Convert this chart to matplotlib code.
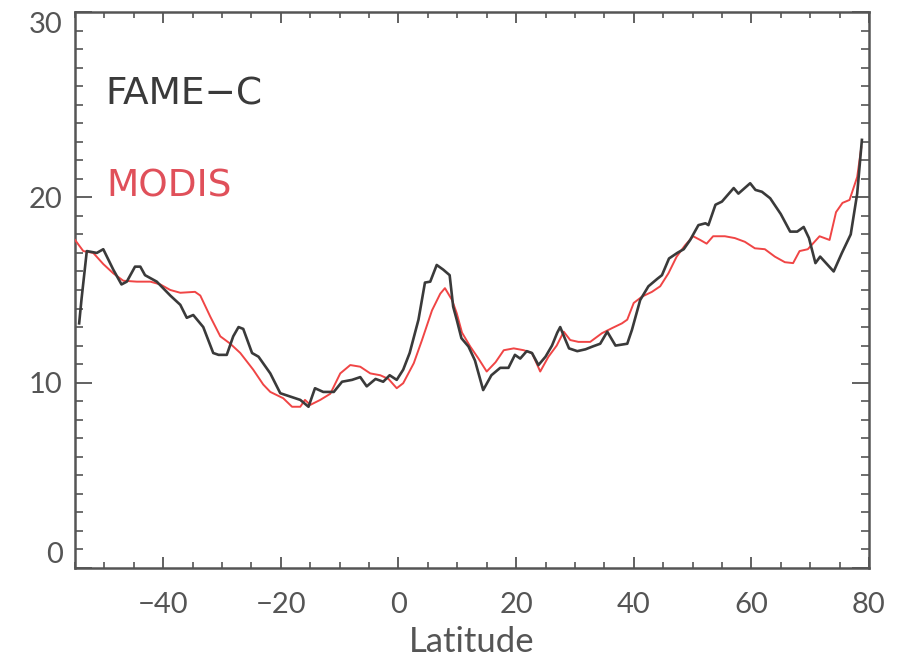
import matplotlib
matplotlib.use("Agg")
import matplotlib.pyplot as plt
from matplotlib.ticker import MultipleLocator

# FAME-C (black) traced
fame_lat = [-54.3, -53.9, -53.0, -51.3, -50.2, -48.5, -47.1, -46.2, -44.8, -43.9, -43.1,
            -41.1, -38.8, -37.1, -36.0, -34.9, -33.2, -31.5, -30.6, -29.2, -28.1, -27.2,
            -26.4, -24.9, -23.8, -21.8, -20.1, -18.4, -16.7, -15.3, -14.2, -12.8, -11.0,
            -9.6, -7.9, -6.5, -5.4, -3.9, -2.6, -1.5, -0.3, 0.8, 1.9, 3.4, 4.5, 5.4, 6.5,
            7.6, 8.7, 9.3, 9.9, 10.7, 11.9, 13.0, 14.4, 15.8, 17.3, 18.7, 19.8, 20.7, 21.8,
            22.7, 23.8, 25.0, 26.1, 27.0, 27.5, 28.4, 29.0, 30.4, 31.8, 33.0, 34.3, 35.5,
            36.9, 38.9, 39.7, 41.1, 42.5, 44.0, 44.8, 46.0, 47.4, 48.5, 49.6, 51.0, 52.2,
            52.7, 53.9, 55.0, 57.0, 57.8, 59.8, 60.7, 61.8, 63.2, 65.0, 66.6, 67.8, 68.9,
            69.8, 70.9, 71.7, 74.0, 75.4, 76.9, 78.0, 78.8]
fame_val = [13.2, 14.5, 17.1, 17.0, 17.2, 16.1, 15.3, 15.45, 16.26, 16.26, 15.8,
            15.45, 14.7, 14.2, 13.5, 13.65, 13.0, 11.6, 11.5, 11.5, 12.5, 13.0,
            12.9, 11.6, 11.4, 10.5, 9.43, 9.25, 9.07, 8.7, 9.7, 9.5, 9.5,
            10.05, 10.15, 10.3, 9.8, 10.2, 10.05, 10.4, 10.15, 10.7, 11.6, 13.4, 15.4, 15.45, 16.35,
            16.1, 15.8, 14.1, 13.4, 12.4, 11.95, 11.2, 9.6, 10.4, 10.8, 10.8, 11.5, 11.3, 11.7,
            11.6, 10.95, 11.4, 12.0, 12.7, 13.0, 12.3, 11.85, 11.7, 11.8, 11.95, 12.1, 12.75,
            12.0, 12.1, 12.85, 14.46, 15.2, 15.6, 15.8, 16.7, 17.0, 17.2, 17.7, 18.5, 18.6,
            18.5, 19.6, 19.77, 20.5, 20.2, 20.76, 20.4, 20.3, 19.95, 19.1, 18.15, 18.15, 18.4,
            17.8, 16.45, 16.8, 16.0, 17.0, 18.0, 20.2, 23.1]

# MODIS (red) traced
modis_lat = [-55.0, -53.6, -51.9, -50.2, -48.5, -46.8, -44.5, -42.2, -40.5, -38.8, -37.1,
             -34.6, -33.7, -32.0, -30.3, -28.6, -26.9, -24.7, -23.0, -21.8, -19.6, -18.1,
             -16.7, -15.9, -15.0, -13.3, -11.6, -9.9, -8.2, -6.5, -4.8, -3.1, -1.7, -0.3,
             0.8, 2.6, 4.0, 5.7, 7.1, 7.9, 9.1, 9.9, 10.8, 12.2, 13.6, 15.0, 16.5, 17.9,
             19.6, 21.3, 22.7, 24.1, 25.5, 26.9, 28.1, 29.2, 30.6, 32.6, 34.6, 36.3, 38.0,
             38.9, 40.0, 41.4, 43.1, 44.5, 45.9, 47.3, 48.7, 50.1, 51.3, 52.4, 53.5, 55.5,
             57.2, 58.9, 60.6, 62.3, 64.0, 65.7, 67.1, 68.2, 69.6, 71.6, 73.3, 74.4, 75.5,
             76.7, 78.0, 78.7]
modis_val = [17.7, 17.1, 17.0, 16.4, 15.9, 15.5, 15.45, 15.45, 15.3, 15.0, 14.85,
             14.9, 14.7, 13.56, 12.5, 12.1, 11.6, 10.7, 9.9, 9.5, 9.16, 8.7,
             8.7, 9.07, 8.8, 9.07, 9.4, 10.5, 10.95, 10.86, 10.5, 10.4, 10.2, 9.7,
             9.97, 11.05, 12.3, 13.9, 14.8, 15.1, 14.46, 13.75, 12.7, 11.95, 11.3, 10.6, 11.1, 11.75,
             11.85, 11.75, 11.6, 10.6, 11.4, 12.0, 12.75, 12.3, 12.2, 12.2, 12.67, 12.94, 13.2,
             13.4, 14.3, 14.64, 14.9, 15.2, 15.9, 16.8, 17.4, 17.9, 17.7, 17.5, 17.9, 17.9,
             17.8, 17.6, 17.25, 17.2, 16.8, 16.5, 16.45, 17.1, 17.2, 17.9, 17.7, 19.2, 19.7,
             19.86, 21.1, 22.7]

x_ticks = [-40, -20, 0, 20, 40, 60, 80]
y_ticks = [0, 10, 20, 30]

plt.rcParams['font.family'] = ['Lato', 'DejaVu Sans']
plt.rcParams['font.weight'] = 'normal'

axis_col = '#555555'
fig = plt.figure(figsize=(9.03, 6.59), dpi=100)
ax = fig.add_axes([0.0831, 0.1381, 0.8792, 0.8437])

ax.plot(modis_lat, modis_val, color='#f04545', lw=1.4, zorder=3)
ax.plot(fame_lat, fame_val, color='#3a3a3a', lw=1.9, zorder=4)

ax.set_xlim(-55, 80)
ax.set_ylim(0, 30)
ax.set_xticks(x_ticks)
ax.set_yticks(y_ticks)
ax.xaxis.set_minor_locator(MultipleLocator(5))
ax.yaxis.set_minor_locator(MultipleLocator(1))

for s in ax.spines.values():
    s.set_color(axis_col)
    s.set_linewidth(1.8)

ax.tick_params(axis='x', which='major', direction='in', length=8, width=1.3,
               top=True, bottom=True, colors=axis_col, labelsize=21, pad=17)
ax.tick_params(axis='x', which='minor', direction='in', length=4.5, width=1.2,
               top=True, bottom=True, colors=axis_col)
ax.tick_params(axis='y', which='major', direction='in', length=12.5, width=1.3,
               left=True, right=True, colors=axis_col, labelsize=21, pad=9)
ax.tick_params(axis='y', which='minor', direction='in', length=6, width=1.2,
               left=True, right=True, colors=axis_col)

ax.set_xticklabels([f"{t}".replace('-', '\u2212') for t in x_ticks])
ax.set_yticklabels([str(t) for t in y_ticks])
yt = ax.yaxis.get_major_ticks()
yt[0].label1.set_va('bottom')
yt[-1].label1.set_va('top')

ax.set_xlabel('Latitude', fontsize=25, color='#555555', labelpad=6)

ax.text(0.038, 0.833, 'FAME\u2212C', transform=ax.transAxes, fontsize=27,
        color='#3a3a3a', va='baseline', ha='left', family=['DejaVu Sans'])
ax.text(0.040, 0.669, 'MODIS', transform=ax.transAxes, fontsize=27,
        color='#e0505a', va='baseline', ha='left', family=['DejaVu Sans'])

fig.savefig('out.png', dpi=100)
